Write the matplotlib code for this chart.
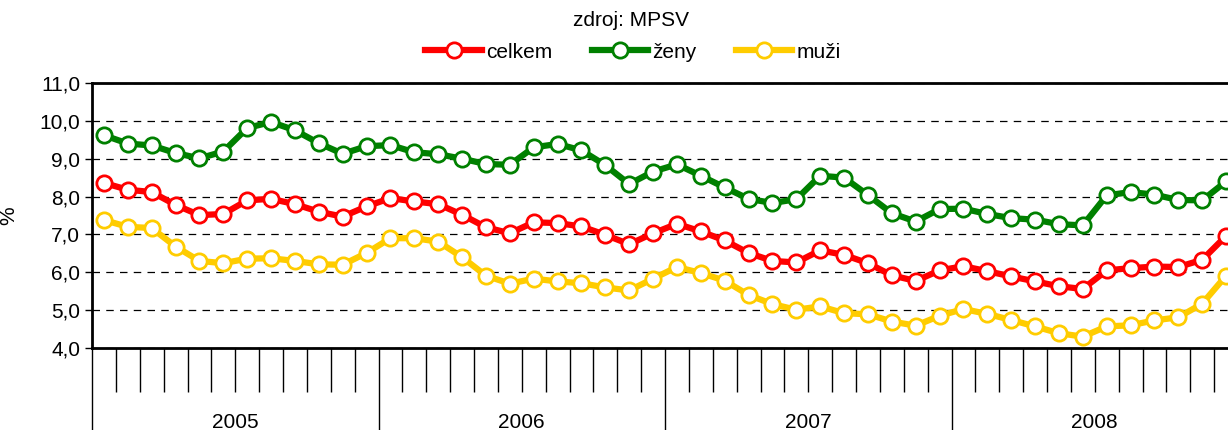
import matplotlib.pyplot as plt
from matplotlib.ticker import FuncFormatter, MultipleLocator

plt.rcParams['font.family'] = ['Liberation Sans', 'DejaVu Sans']

# monthly values, Jan 2005 - Dec 2008
celkem = [8.36, 8.18, 8.12, 7.78, 7.51, 7.54, 7.90, 7.94, 7.80, 7.60, 7.47, 7.74,
          7.96, 7.87, 7.80, 7.52, 7.19, 7.03, 7.32, 7.30, 7.21, 6.99, 6.74, 7.03,
          7.28, 7.08, 6.84, 6.51, 6.30, 6.26, 6.58, 6.46, 6.24, 5.92, 5.77, 6.05,
          6.16, 6.03, 5.89, 5.76, 5.63, 5.56, 6.05, 6.11, 6.15, 6.14, 6.33, 6.96]
zeny = [9.62, 9.40, 9.35, 9.15, 9.01, 9.19, 9.81, 9.97, 9.75, 9.41, 9.13, 9.33,
        9.36, 9.17, 9.12, 9.00, 8.86, 8.84, 9.30, 9.39, 9.22, 8.83, 8.33, 8.66,
        8.85, 8.55, 8.24, 7.94, 7.83, 7.93, 8.55, 8.50, 8.04, 7.56, 7.34, 7.67,
        7.68, 7.54, 7.43, 7.39, 7.27, 7.24, 8.03, 8.12, 8.05, 7.91, 7.90, 8.40]
muzi = [7.38, 7.20, 7.17, 6.68, 6.30, 6.24, 6.36, 6.37, 6.30, 6.21, 6.20, 6.51,
        6.90, 6.90, 6.81, 6.40, 5.91, 5.70, 5.83, 5.76, 5.71, 5.60, 5.52, 5.83,
        6.14, 5.98, 5.78, 5.40, 5.16, 5.01, 5.10, 4.92, 4.89, 4.70, 4.59, 4.85,
        5.03, 4.90, 4.74, 4.57, 4.39, 4.30, 4.57, 4.60, 4.73, 4.81, 5.17, 5.91]
years = ['2005', '2006', '2007', '2008']

series = [('celkem', celkem, '#FF0000'), ('ženy', zeny, '#008000'), ('muži', muzi, '#FFCC00')]

fig = plt.figure(figsize=(12.28, 4.30), dpi=100)
ax = fig.add_axes([92 / 1228, 82 / 430, 1146 / 1228, 265 / 430])

x = list(range(len(celkem)))
for name, vals, col in series:
    ax.plot(x, vals, color=col, lw=4.5, marker='o', ms=11, mfc='white',
            mec=col, mew=2, label=name, clip_on=False, zorder=3)

ax.set_ylim(4, 11)
ax.set_xlim(-0.5, len(x) - 0.5)
ax.yaxis.set_major_locator(MultipleLocator(1))
ax.yaxis.set_major_formatter(FuncFormatter(lambda v, p: f'{v:.1f}'.replace('.', ',')))
ax.grid(axis='y', color='black', ls=(0, (6, 5)), lw=0.9)
ax.set_ylabel('%', fontsize=15)
ax.yaxis.set_label_coords(-0.064, 0.5)
ax.tick_params(axis='y', labelsize=15, length=5, width=1)

# month ticks (minor) and year separators (major)
ax.set_xticks([i * 12 - 0.5 for i in range(len(years))])
ax.set_xticks([i - 0.5 for i in x if i % 12 != 0], minor=True)
ax.tick_params(axis='x', which='major', length=60, width=1, labelbottom=False)
ax.tick_params(axis='x', which='minor', length=32, width=1)
for i, yr in enumerate(years):
    ax.text(i * 12 + 5.5, -0.28, yr, transform=ax.get_xaxis_transform(),
            ha='center', va='center', fontsize=15)

for s in ax.spines.values():
    s.set_linewidth(2)

fig.text(631 / 1228, 1 - 20 / 430, 'zdroj: MPSV', ha='center', va='center', fontsize=15)
fig.legend(loc='center', bbox_to_anchor=(633 / 1228, 1 - 52 / 430), ncol=3,
           frameon=False, fontsize=15, handlelength=2.7, columnspacing=1.9,
           handletextpad=0.2)

fig.savefig('out.png', dpi=100)
